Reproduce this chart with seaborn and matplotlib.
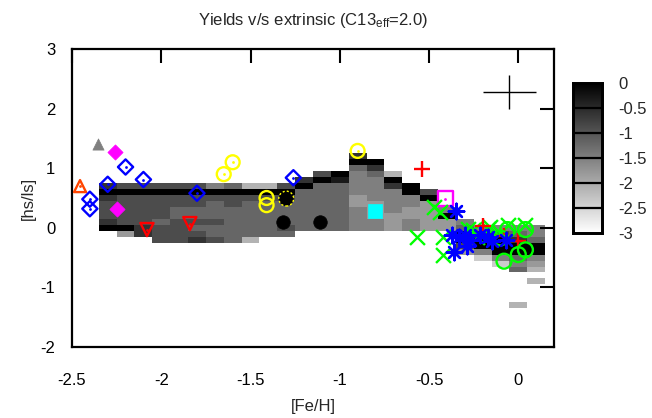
import numpy as np
import pandas as pd
import matplotlib
matplotlib.use("Agg")
import matplotlib.pyplot as plt
import seaborn as sns

sns.set_theme(style="white")
plt.rcParams["font.family"] = ["Liberation Sans", "DejaVu Sans"]
plt.rcParams["mathtext.default"] = "regular"

# ---------------- heat map (model yields) ----------------
fe_centers = [-2.3, -2.2, -2.1, -2.0, -1.9, -1.8, -1.7, -1.6, -1.5, -1.4, -1.3, -1.2,
              -1.1, -1.0, -0.9, -0.8, -0.7, -0.6, -0.5, -0.4, -0.3, -0.2, -0.1, 0.0, 0.1]
hsls_rows = [1.2, 1.1, 1.0, 0.9, 0.8, 0.7, 0.6, 0.5, 0.4, 0.3, 0.2, 0.1, 0.0,
             -0.1, -0.2, -0.3, -0.4, -0.5, -0.6, -0.7, -0.8, -0.9, -1.0, -1.1, -1.2, -1.3]
heat_tops = [0.7, 0.7, 0.7, 0.7, 0.7, 0.7, 0.7, 0.7, 0.7, 0.7, 0.7, 0.8,
             0.9, 0.9, 1.2, 1.1, 0.9, 0.7, 0.6, 0.3, 0.1, 0.0, 0.0, 0.0, 0.0]
# one digit per cell, top row downwards; z = -0.3 * digit, '.' = empty
heat_levels = ["20233320", "303333306", "303333322", "3033334333", "3033443333",
               "3033443432", "5034443443", "4033444444", "7034444447", "703444444",
               "303444434", "204444444", "3044444444", "0144444444", "2045555665555",
               "024555566655", "7025555666", "00556655", "3066666", "5066",
               "540036", "520058", "5300058", "54200454.....7", "55400567.7"]
level_step = 0.3

# ---------------- observed stars ----------------
gray_tri_x, gray_tri_y = [-2.355], [1.41]
orange_tri_x, orange_tri_y = [-2.455], [0.70]
blue_dia_x = [-2.30, -2.40, -2.40, -2.20, -2.10, -1.80, -1.26]
blue_dia_y = [0.73, 0.48, 0.32, 1.02, 0.81, 0.58, 0.84]
mag_dia_x, mag_dia_y = [-2.26, -2.25], [1.28, 0.31]
red_down_x, red_down_y = [-2.08, -1.84], [-0.03, 0.07]
yel_dot_x, yel_dot_y = [-1.65, -1.60, -0.90], [0.90, 1.10, 1.29]
yel_circ_x, yel_circ_y = [-1.41, -1.41], [0.50, 0.38]
blk_dash_x, blk_dash_y = [-1.30], [0.49]
blk_circ_x, blk_circ_y = [-1.32, -1.11], [0.09, 0.09]
cyan_sq_x, cyan_sq_y = [-0.80], [0.29]
mag_sq_x, mag_sq_y = [-0.41], [0.49]
red_plus_x = [-0.54, -0.20, -0.08, 0.00]
red_plus_y = [0.98, 0.03, -0.14, -0.22]
green_x_x = [-0.47, -0.44, -0.57, -0.42, -0.42, -0.28, -0.23, -0.17, -0.255, -0.16, -0.06, 0.04, -0.10]
green_x_y = [0.35, 0.27, -0.15, -0.15, -0.45, -0.02, -0.15, -0.02, -0.03, 0.02, 0.05, 0.05, -0.08]
green_o_x = [-0.10, -0.06, 0.04, -0.08, 0.00, 0.04]
green_o_y = [-0.17, -0.03, -0.03, -0.56, -0.45, -0.37]
blue_ast_x = [-0.35, -0.37, -0.33, -0.36, -0.29, -0.30, -0.215, -0.17, -0.27, -0.15, -0.07]
blue_ast_y = [0.29, -0.12, -0.15, -0.40, -0.31, -0.12, -0.12, -0.15, -0.20, -0.22, -0.20]
err_x, err_y, err_dx, err_dy = [-0.05], [2.28], [0.15], [0.29]

cb_ticks = [0, -0.5, -1, -1.5, -2, -2.5, -3]

# ---------------- build grid ----------------
grid = np.full((len(hsls_rows), len(fe_centers)), np.nan)
for j, (top, levs) in enumerate(zip(heat_tops, heat_levels)):
    r0 = int(round((hsls_rows[0] - top) / 0.1))
    for k, ch in enumerate(levs):
        if ch != ".":
            grid[r0 + k, j] = -level_step * int(ch)
df = pd.DataFrame(grid, index=hsls_rows, columns=fe_centers)

W, H = 652, 418
fig = plt.figure(figsize=(W / 100, H / 100), dpi=100)
L, R, T, B = 72, 554, 49, 347
rect = [L / W, 1 - B / H, (R - L) / W, (B - T) / H]
ax_h = fig.add_axes(rect)
cax = fig.add_axes([573 / W, 1 - 233 / H, 29 / W, 150 / H])
ax = fig.add_axes(rect)
ax.patch.set_alpha(0)

xlim = (-2.5, 0.2)
ylim = (-2, 3)
sns.heatmap(df, ax=ax_h, cmap="gray_r", vmin=-3, vmax=0, cbar_ax=cax,
            xticklabels=False, yticklabels=False, cbar_kws={"ticks": cb_ticks})
x0 = fe_centers[0] - 0.05
y0 = hsls_rows[0] + 0.05
ax_h.set_xlim((xlim[0] - x0) / 0.1, (xlim[1] - x0) / 0.1)
ax_h.set_ylim((y0 - ylim[0]) / 0.1, (y0 - ylim[1]) / 0.1)
ax_h.axis("off")

# colorbar styling
cax.tick_params(length=0, labelsize=12, pad=12)
cax.set_yticklabels(["0", "-0.5", "-1", "-1.5", "-2", "-2.5", "-3"])
for t in cb_ticks[1:-1]:
    cax.axhline(t, color="black", lw=1.6)
for sp in cax.spines.values():
    sp.set_visible(True)
    sp.set_color("black")
    sp.set_linewidth(2)

lw = 1.7
def open_pts(x, y, marker, color, s, dot=False, **kw):
    sns.scatterplot(x=x, y=y, ax=ax, marker=marker, s=s, facecolor="none",
                    edgecolor=color, linewidth=lw, zorder=5, **kw)
    if dot:
        sns.scatterplot(x=x, y=y, ax=ax, marker="o", s=4, color=color,
                        edgecolor=color, linewidth=0, zorder=6)

def filled_pts(x, y, marker, color, s, **kw):
    sns.scatterplot(x=x, y=y, ax=ax, marker=marker, s=s, color=color,
                    edgecolor=color, linewidth=0.5, zorder=5, **kw)

def line_pts(x, y, marker, color, s):
    sns.scatterplot(x=x, y=y, ax=ax, marker=marker, s=s, color=color,
                    linewidth=lw, zorder=5)

filled_pts(gray_tri_x, gray_tri_y, "^", "#808080", 65)
open_pts(orange_tri_x, orange_tri_y, "^", "#ff4500", 75, dot=True)
open_pts(blue_dia_x, blue_dia_y, "D", "#0000ff", 60, dot=True)
filled_pts(mag_dia_x, mag_dia_y, "D", "#ff00ff", 60)
open_pts(red_down_x, red_down_y, "v", "#ff0000", 90, dot=True)
open_pts(yel_dot_x, yel_dot_y, "o", "#ffff00", 100, dot=True)
open_pts(yel_circ_x, yel_circ_y, "o", "#ffff00", 100)
sns.scatterplot(x=blk_dash_x, y=blk_dash_y, ax=ax, marker="o", s=115, color="black",
                edgecolor="#ffff00", linewidth=1.0, linestyle=(0, (1.5, 1.5)), zorder=5)
filled_pts(blk_circ_x, blk_circ_y, "o", "black", 95)
filled_pts(cyan_sq_x, cyan_sq_y, "s", "#00ffff", 115)
open_pts(mag_sq_x, mag_sq_y, "s", "#ff00ff", 115, dot=True)
line_pts(green_x_x, green_x_y, "x", "#00ff00", 115)
line_pts(red_plus_x, red_plus_y, "+", "#ff0000", 135)
open_pts(green_o_x, green_o_y, "o", "#00ff00", 115)
line_pts(blue_ast_x, blue_ast_y, (8, 2, 0), "#0000ff", 125)

ax.errorbar(err_x, err_y, xerr=err_dx, yerr=err_dy, fmt="none", ecolor="black",
            elinewidth=1.0, capsize=0, zorder=6)

ax.set_xlim(*xlim)
ax.set_ylim(*ylim)
ax.set_xticks([-2.5, -2, -1.5, -1, -0.5, 0])
ax.set_xticklabels(["-2.5", "-2", "-1.5", "-1", "-0.5", "0"])
ax.set_yticks([-2, -1, 0, 1, 2, 3])
ax.set_yticklabels(["-2", "-1", "0", "1", "2", "3"])
ax.tick_params(axis="both", direction="in", length=10, width=1.5, labelsize=12,
               top=True, right=True, colors="black")
ax.tick_params(axis="x", pad=19)
ax.tick_params(axis="y", pad=12)
for sp in ax.spines.values():
    sp.set_visible(True)
    sp.set_color("black")
    sp.set_linewidth(1.6)
ax.set_xlabel("[Fe/H]", fontsize=12, labelpad=8)
ax.set_ylabel("[hs/ls]", fontsize=12, labelpad=3)
ax.set_title("Yields v/s extrinsic (C13$_{eff}$=2.0)", fontsize=12, pad=17)

fig.savefig("out.png", dpi=100)
